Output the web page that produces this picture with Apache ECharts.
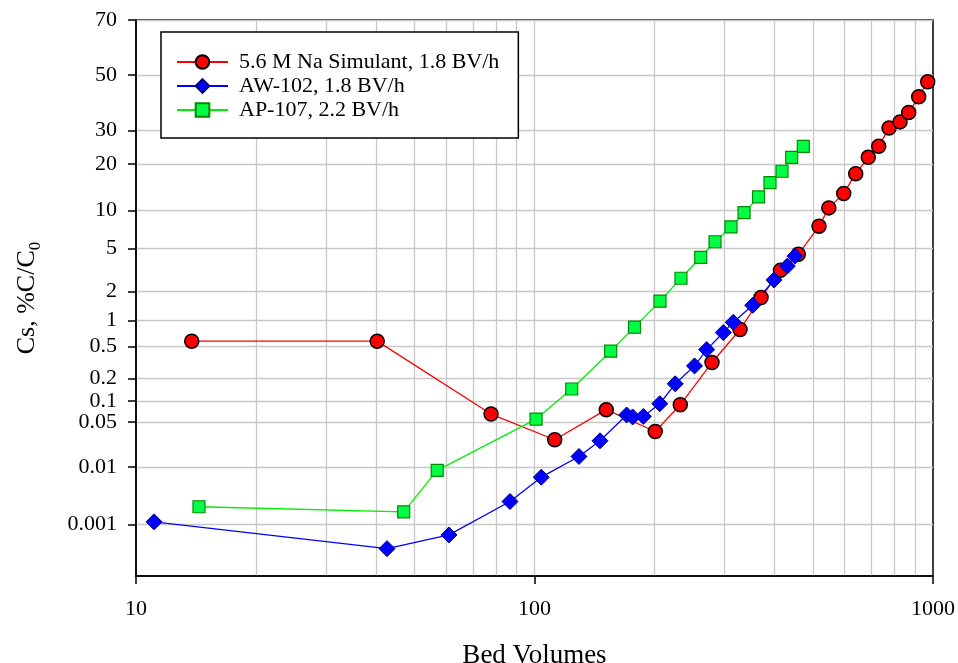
<!DOCTYPE html>
<html><head><meta charset="utf-8">
<script src="https://cdn.jsdelivr.net/npm/echarts@6/dist/echarts.min.js"></script>
<style>html,body{margin:0;padding:0;background:#fff}#c{width:958px;height:663px}</style>
</head><body><div id="c"></div>
<script>
// ---------- data ----------
const seriesNames = ['5.6 M Na Simulant, 1.8 BV/h', 'AW-102, 1.8 BV/h', 'AP-107, 2.2 BV/h'];

const naBV = [13.8, 40.3, 77.8, 112.4, 151.4, 200.9, 232.2, 278.9, 328, 370.2, 414.1, 459.2, 517.6, 547.7, 597, 639.8, 688, 730.6, 775.6, 826.5, 869, 920.7, 970];
const naCs = [0.58, 0.58, 0.065, 0.027, 0.075, 0.036, 0.088, 0.32, 0.79, 1.74, 3.2, 4.46, 7.6, 10.4, 13.1, 17.5, 21.8, 25, 30.8, 32.9, 36.2, 41.9, 47.5];

const aw102BV = [11.1, 42.65, 61.0, 86.8, 104.0, 129.3, 146.0, 170.3, 176.3, 187.5, 206.2, 225.5, 252.1, 270.5, 297.7, 315.4, 352.8, 399, 430.9, 450.5];
const aw102Cs = [0.00112, 0.00035, 0.00064, 0.0026, 0.0068, 0.0148, 0.026, 0.063, 0.059, 0.060, 0.091, 0.17, 0.29, 0.46, 0.73, 0.95, 1.45, 2.6, 3.5, 4.3];

const ap107BV = [14.39, 46.96, 57.0, 100.9, 124.0, 155.3, 178.2, 206.5, 233.1, 261.3, 283.8, 311.2, 335.6, 364.9, 389.9, 417.9, 441.9, 472.6];
const ap107Cs = [0.0021, 0.0017, 0.0088, 0.055, 0.145, 0.44, 0.84, 1.6, 2.7, 4.2, 5.7, 7.5, 9.6, 12.4, 15.4, 18.1, 21.8, 25];

const xTickValues = [10, 100, 1000];
const xGridValues = [20, 30, 40, 50, 60, 70, 80, 90, 100, 200, 300, 400, 500, 600, 700, 800, 900];
const yTickLabels = ['70', '50', '30', '20', '10', '5', '2', '1', '0.5', '0.2', '0.1', '0.05', '0.01', '0.001'];
const yMinPct = 0.0001, yMaxPct = 70;

// ---------- normal-probability transform ----------
function probit(p) {
  const a = [-3.969683028665376e+01, 2.209460984245205e+02, -2.759285104469687e+02, 1.383577518672690e+02, -3.066479806614716e+01, 2.506628277459239e+00];
  const b = [-5.447609879822406e+01, 1.615858368580409e+02, -1.556989798598866e+02, 6.680131188771972e+01, -1.328068155288572e+01];
  const c = [-7.784894002430293e-03, -3.223964580411365e-01, -2.400758277161838e+00, -2.549732539343734e+00, 4.374664141464968e+00, 2.938163982698783e+00];
  const d = [7.784695709041462e-03, 3.224671290700398e-01, 2.445134137142996e+00, 3.754408661907416e+00];
  const pl = 0.02425, ph = 1 - pl;
  let q, r;
  if (p < pl) { q = Math.sqrt(-2 * Math.log(p)); return (((((c[0]*q+c[1])*q+c[2])*q+c[3])*q+c[4])*q+c[5]) / ((((d[0]*q+d[1])*q+d[2])*q+d[3])*q+1); }
  if (p <= ph) { q = p - 0.5; r = q*q; return (((((a[0]*r+a[1])*r+a[2])*r+a[3])*r+a[4])*r+a[5])*q / (((((b[0]*r+b[1])*r+b[2])*r+b[3])*r+b[4])*r+1); }
  q = Math.sqrt(-2 * Math.log(1 - p)); return -(((((c[0]*q+c[1])*q+c[2])*q+c[3])*q+c[4])*q+c[5]) / ((((d[0]*q+d[1])*q+d[2])*q+d[3])*q+1);
}
const toZ = pct => probit(pct / 100);
const yTickZ = yTickLabels.map(s => toZ(parseFloat(s)));
const pairs = (xs, ys) => xs.map((x, i) => [x, toZ(ys[i])]);

const FONT = "'Liberation Serif', 'Times New Roman', serif";
const chart = echarts.init(document.getElementById('c'), null, { renderer: 'canvas' });

function mkSeries(name, data, color, symbol, size, fill, border, bw) {
  return {
    name, type: 'line', data, symbol, symbolSize: size, xAxisIndex: 0,
    lineStyle: { color, width: 1.3 },
    itemStyle: { color: fill, borderColor: border, borderWidth: bw },
    emphasis: { disabled: true }
  };
}

chart.setOption({
  animation: false,
  backgroundColor: '#fff',
  grid: { left: 136, right: 25, top: 20, bottom: 87, outerBoundsMode: 'none', containLabel: false,
          show: true, borderColor: '#000', borderWidth: 1.5, backgroundColor: 'transparent' },
  legend: {
    orient: 'vertical', left: 161, top: 32,
    padding: [19, 19, 17, 15],
    borderColor: '#000', borderWidth: 1.5, backgroundColor: '#fff',
    itemWidth: 51, itemHeight: 17, itemGap: 2,
    textStyle: { fontFamily: FONT, fontSize: 22, color: '#000', padding: [0, 0, 0, 6] },
    data: seriesNames
  },
  xAxis: [{
    type: 'log', logBase: 10, min: 10, max: 1000, position: 'bottom',
    name: 'Bed Volumes', nameLocation: 'middle', nameGap: 66,
    nameTextStyle: { fontFamily: FONT, fontSize: 27, color: '#000' },
    axisLine: { show: true, onZero: false, lineStyle: { color: '#000', width: 1.5 } },
    axisTick: { show: true, length: 8, inside: false, customValues: xTickValues, lineStyle: { color: '#000', width: 1.5 } },
    axisLabel: { customValues: xTickValues, margin: 22, fontFamily: FONT, fontSize: 22, color: '#000', formatter: v => String(Math.round(v)) },
    splitLine: { show: false }
  }, {
    type: 'log', logBase: 10, min: 10, max: 1000, position: 'bottom',
    axisLine: { show: false, onZero: false }, axisLabel: { show: false },
    axisTick: { show: false, customValues: xGridValues },
    splitLine: { show: true, lineStyle: { color: '#c8c8c8', width: 1.3 } }
  }],
  yAxis: {
    type: 'value', min: toZ(yMinPct), max: toZ(yMaxPct),
    name: '{a|Cs, %C/C}{b|0}', nameLocation: 'middle', nameGap: 92, nameRotate: 90,
    nameTextStyle: { fontFamily: FONT, fontSize: 26, color: '#000',
      rich: { a: { fontFamily: FONT, fontSize: 26, color: '#000', lineHeight: 30, verticalAlign: 'top' },
              b: { fontFamily: FONT, fontSize: 17, color: '#000', lineHeight: 17, verticalAlign: 'bottom' } } },
    axisLine: { show: true, onZero: false, lineStyle: { color: '#000', width: 1.5 } },
    axisTick: { show: true, length: 8, customValues: yTickZ, lineStyle: { color: '#000', width: 1.5 } },
    axisLabel: { customValues: yTickZ, margin: 19, fontFamily: FONT, fontSize: 22, color: '#000',
      formatter: v => { let bi = 0, bd = Infinity; yTickZ.forEach((z, i) => { const dd = Math.abs(z - v); if (dd < bd) { bd = dd; bi = i; } }); return yTickLabels[bi]; } },
    splitLine: { show: true, lineStyle: { color: '#c8c8c8', width: 1.3 } }
  },
  series: [
    mkSeries(seriesNames[0], pairs(naBV, naCs), '#ff0000', 'circle', 14, '#ff0000', '#000', 1.5),
    mkSeries(seriesNames[1], pairs(aw102BV, aw102Cs), '#0000ff', 'diamond', 16, '#0000ff', '#00007a', 1),
    mkSeries(seriesNames[2], pairs(ap107BV, ap107Cs), '#00ee00', 'rect', 12, '#00ff44', '#008a00', 1.2)
  ]
});
</script></body></html>
